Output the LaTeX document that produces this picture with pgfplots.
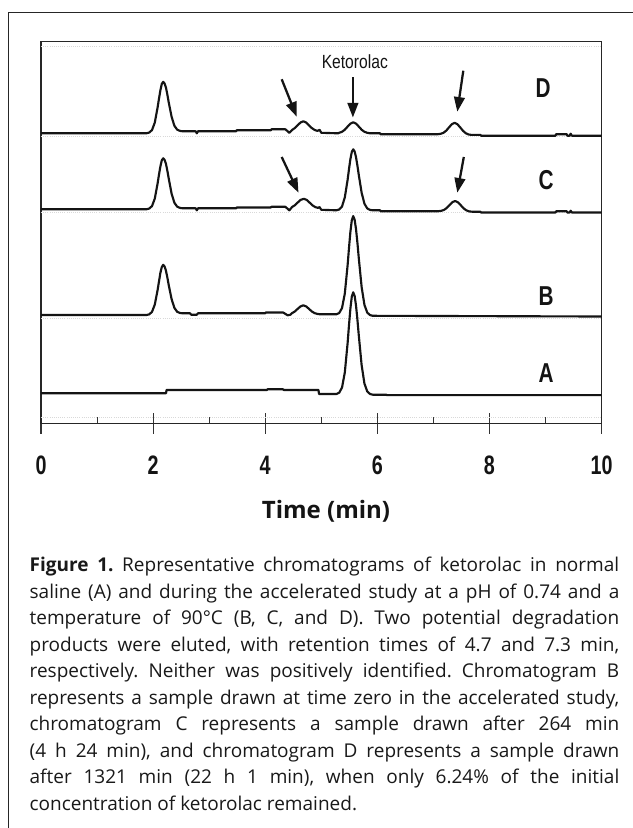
\documentclass[border=0pt]{standalone}
\usepackage{pgfplots}
\pgfplotsset{compat=1.18}
\usepackage{fontspec}
\setmainfont{Open Sans}
\newfontfamily\arialfont{Liberation Sans}
\usetikzlibrary{arrows.meta}
\newcommand\capline[1]{\hbox to\hsize{#1}}
\tikzset{
  trace/.style={line width=1.6pt, black!92, line join=round, mark=none},
  scan/.style={line width=0.6pt, gray!30, densely dotted, mark=none},
  digit/.style={inner sep=0pt, yshift=-31.3pt, font=\arialfont\bfseries\fontsize{20pt}{20pt}\selectfont, black!92},
  lab/.style={inner sep=0pt, font=\arialfont\bfseries\fontsize{20.5pt}{21pt}\selectfont, black!92},
  arr/.style={line width=1.7pt, black!92, -{Triangle[length=11pt,width=8pt]}}
}
\begin{document}
\begin{tikzpicture}[x=0.75pt,y=-0.75pt]
\useasboundingbox (0,0) rectangle (632,828);
\fill[white] (0,0) rectangle (632,828);
\draw[line width=1.1pt,black!85] (8.5,830) -- (8.5,12.7) -- (634,12.7);
\coordinate (O) at (41,423.3);
\begin{axis}[at={(O)}, anchor=south west, scale only axis,
  width=420.4pt, height=286.2pt,
  xmin=0, xmax=10, ymin=0, ymax=381.6,
  axis line style={line width=1.1pt,black!85},
  ytick=\empty, xtick={0,2,...,10}, xticklabels={}, xtick pos=bottom,
  tick align=center, major tick length=15.75pt,
  tick style={line width=0.8pt,black!80},
  extra x ticks={1,3,5,7,9}, extra x tick labels={},
  extra x tick style={tick align=inside, major tick length=5pt},
  clip=false]
% faint scan lines
\addplot[scan] coordinates {(0,6) (10,6)};
\addplot[scan] coordinates {(0,105) (10,105)};
\addplot[scan] coordinates {(0,210.5) (10,210.5)};
\addplot[scan] coordinates {(0,286.5) (10,286.5)};
\addplot[scan] coordinates {(0,376.5) (10,376.5)};
% D
\addplot[trace] coordinates {(0,290) (1.88,290) (1.93,290.7) (1.98,293.2) (2.03,300.7) (2.08,315.8) (2.105,324.7) (2.13,333.0) (2.155,339.4) (2.18,341.5) (2.205,339.8) (2.23,335.5) (2.255,328.5) (2.28,320.5) (2.33,306.5) (2.38,297.5) (2.43,293.6) (2.48,292.4) (2.53,292) (2.76,292) (2.78,290) (2.80,292) (3.48,292) (3.49,293) (4.10,293) (4.11,294) (4.36,294) (4.43,290.5) (4.48,293.4) (4.53,295.3) (4.58,298.1) (4.63,300.8) (4.68,302) (4.73,300.8) (4.78,298.1) (4.83,295.3) (4.88,293.4) (4.93,292.4) (4.97,293.5) (5.00,290.5) (5.30,290) (5.32,290.5) (5.37,291.5) (5.42,293.6) (5.47,296.7) (5.52,299.7) (5.57,301) (5.62,299.7) (5.67,296.7) (5.72,293.6) (5.77,291.5) (5.82,290.5) (5.87,290) (6.05,290) (6.06,289) (7.08,289.1) (7.13,289.5) (7.18,290.5) (7.23,292.7) (7.28,296.0) (7.33,299.1) (7.38,300.5) (7.43,299.0) (7.48,295.8) (7.53,292.4) (7.58,290.0) (7.63,288.8) (7.68,288.4) (7.84,288.4) (7.85,287.6) (9.18,287.6) (9.19,289.1) (9.38,289.1) (9.39,287.6) (9.43,287.6) (9.45,289.6) (9.47,287.6) (10,287.6)};
% C
\addplot[trace] coordinates {(0,214) (1.88,214) (1.93,214.7) (1.98,217.2) (2.03,224.7) (2.08,239.8) (2.105,248.7) (2.13,256.9) (2.155,263.0) (2.18,265.0) (2.205,263.4) (2.23,259.3) (2.255,252.3) (2.28,244.4) (2.33,229.6) (2.38,220.5) (2.43,216.6) (2.48,215.4) (2.53,215) (2.76,215) (2.78,213) (2.80,215) (3.48,215) (3.49,215.8) (4.10,215.8) (4.11,216.5) (4.36,216.5) (4.43,213) (4.48,216.3) (4.53,218.1) (4.58,220.8) (4.63,223.4) (4.69,224.5) (4.74,223.4) (4.79,220.8) (4.84,218.1) (4.89,216.3) (4.94,215.4) (4.97,216.2) (5.00,213.5) (5.27,213) (5.32,213.8) (5.37,216.8) (5.42,225.9) (5.47,243.5) (5.495,254.4) (5.52,264.3) (5.545,271.4) (5.57,274) (5.595,271.9) (5.62,266.1) (5.645,257.7) (5.67,248.1) (5.72,230.6) (5.77,219.6) (5.82,214.9) (5.87,213.4) (5.92,213) (6.05,213) (6.06,212) (7.09,212.1) (7.14,212.5) (7.19,213.4) (7.24,215.4) (7.29,218.4) (7.34,221.2) (7.39,222.3) (7.44,220.9) (7.49,218.0) (7.54,214.9) (7.59,212.9) (7.64,211.9) (7.69,211.6) (7.84,211.6) (7.85,210.8) (9.18,210.8) (9.19,212) (9.38,212) (9.39,210.8) (9.43,210.8) (9.45,212.6) (9.47,210.8) (10,210.8)};
% B
\addplot[trace] coordinates {(0,108.3) (1.88,108.3) (1.93,108.9) (1.98,111.4) (2.03,118.7) (2.08,133.2) (2.105,141.9) (2.13,150.5) (2.155,156.2) (2.18,158.5) (2.205,156.8) (2.23,152.4) (2.255,145.6) (2.28,137.8) (2.33,124.2) (2.38,115.4) (2.43,111.5) (2.48,110.3) (2.53,110) (2.66,110) (2.68,108.6) (2.78,108.6) (2.80,110) (4.00,110) (4.01,110.8) (4.32,110.8) (4.40,108) (4.45,108.6) (4.48,110.2) (4.53,111.9) (4.58,114.5) (4.63,116.9) (4.68,118) (4.73,116.9) (4.78,114.5) (4.83,111.9) (4.88,110.2) (4.93,109.4) (4.98,109) (5.27,109) (5.32,110.3) (5.37,115.2) (5.42,129.7) (5.47,158.1) (5.495,175.6) (5.52,191.7) (5.545,203.1) (5.57,207.2) (5.595,203.7) (5.62,194.2) (5.645,180.5) (5.67,164.8) (5.72,136.3) (5.77,118.5) (5.82,110.7) (5.87,108.2) (5.92,107.5) (10,106.8)};
% A
\addplot[trace] coordinates {(0,30) (2.23,30) (2.24,33.3) (4.03,33.3) (4.04,34) (4.32,34) (4.33,33.3) (4.95,33.3) (4.96,29.3) (5.27,29.3) (5.32,30.6) (5.37,35.7) (5.42,50.8) (5.47,80.2) (5.495,98.4) (5.52,114.9) (5.545,126.8) (5.57,131) (5.595,127.5) (5.62,117.7) (5.645,103.6) (5.67,87.5) (5.72,58.2) (5.77,39.8) (5.82,31.9) (5.87,29.3) (5.92,28.6) (6.16,28.6) (6.17,28.2) (10,28.2)};
\node[digit] at (axis cs:0,0) {\scalebox{0.74}[1]{0}};
\node[digit] at (axis cs:2,0) {\scalebox{0.74}[1]{2}};
\node[digit] at (axis cs:4,0) {\scalebox{0.74}[1]{4}};
\node[digit] at (axis cs:6,0) {\scalebox{0.74}[1]{6}};
\node[digit] at (axis cs:8,0) {\scalebox{0.74}[1]{8}};
\node[digit] at (axis cs:10,0) {\scalebox{0.74}[1]{10}};
\end{axis}
% labels
\node[lab] at (543,88) {\scalebox{0.76}[1]{D}};
\node[lab] at (546,180) {\scalebox{0.76}[1]{C}};
\node[lab] at (546,296) {\scalebox{0.76}[1]{B}};
\node[lab] at (546,373) {\scalebox{0.76}[1]{A}};
\node[inner sep=0pt, font=\arialfont\fontsize{14.3pt}{14.5pt}\selectfont, black!92] at (354.8,62) {\scalebox{0.82}[1]{Ketorolac}};
% arrows
\draw[arr] (281.7,79.3) -- (296.7,116.7);
\draw[arr] (352.9,77) -- (352.9,117.5);
\draw[arr] (463.3,70.7) -- (457.3,111.7);
\draw[arr] (281.7,157) -- (298.5,192.7);
\draw[arr] (463.8,157) -- (457.3,192.7);
% axis title
\node[anchor=base, inner sep=0pt, font=\bfseries\fontsize{18pt}{18pt}\selectfont, black!92] at (326,518) {Time (min)};
% caption
\node[anchor=base west, inner sep=0pt, black!90] at (29.4,571.7) {\parbox[t]{442.2pt}{\fontsize{14.25pt}{19.9pt}\selectfont\frenchspacing
\capline{\textbf{Figure 1.} Representative chromatograms of ketorolac in normal}
\capline{saline (A) and during the accelerated study at a pH of 0.74 and a}
\capline{temperature of 90°C (B, C, and D). Two potential degradation}
\capline{products were eluted, with retention times of 4.7 and 7.3 min,}
\capline{respectively. Neither was positively identified. Chromatogram B}
\capline{represents a sample drawn at time zero in the accelerated study,}
\capline{chromatogram C represents a sample drawn after 264 min}
\capline{(4 h 24 min), and chromatogram D represents a sample drawn}
\capline{after 1321 min (22 h 1 min), when only 6.24\% of the initial}
\hbox{concentration of ketorolac remained.}}};
\end{tikzpicture}
\end{document}
